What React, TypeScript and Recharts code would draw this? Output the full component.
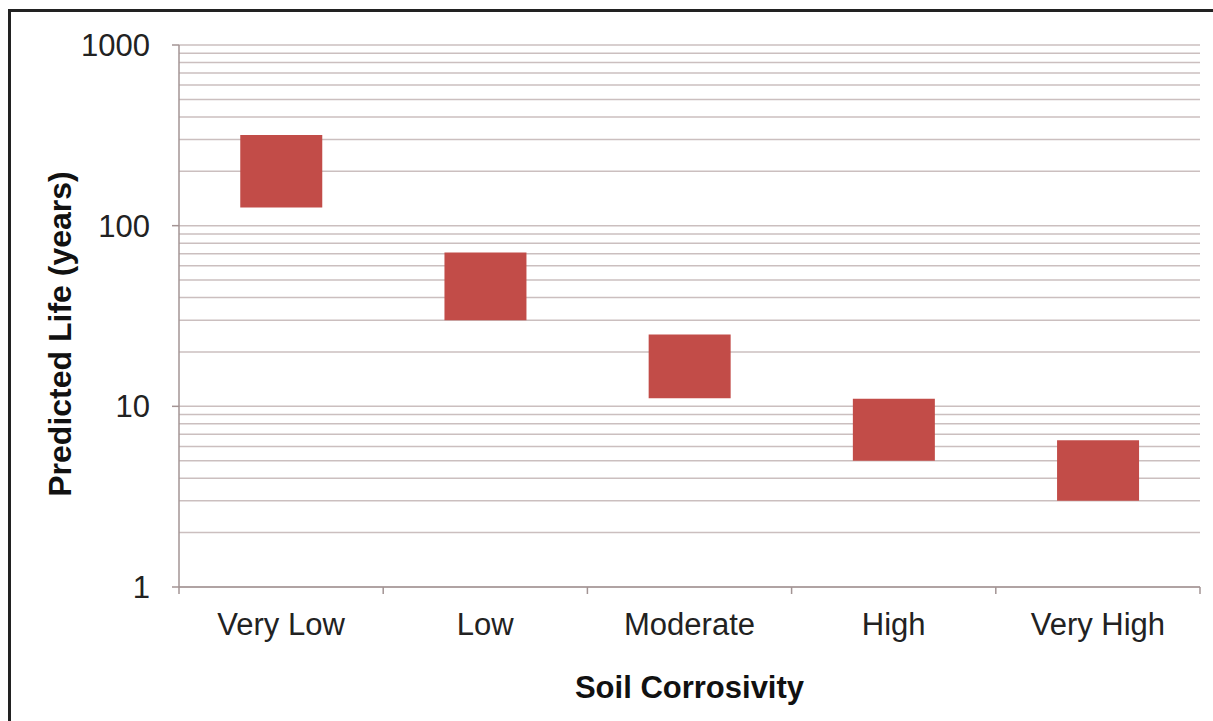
import { BarChart, Bar, XAxis, YAxis, CartesianGrid, Label } from 'recharts';

const categories = ['Very Low', 'Low', 'Moderate', 'High', 'Very High'];
const lifeMin = [126, 30, 11.1, 5, 3];
const lifeMax = [318, 71, 25, 11, 6.5];
const yTicks = [1, 10, 100, 1000];
const gridValues = [
  1, 2, 3, 4, 5, 6, 7, 8, 9,
  10, 20, 30, 40, 50, 60, 70, 80, 90,
  100, 200, 300, 400, 500, 600, 700, 800, 900,
  1000,
];

const data = categories.map((c, i) => ({ name: c, range: [lifeMin[i], lifeMax[i]] }));

const W = 1213;
const H = 721;
const LEFT = 179;
const RIGHT_MARGIN = 13;
const TOP = 45;
const X_AXIS_H = 134;
const BAND = (W - LEFT - RIGHT_MARGIN) / categories.length;
const FONT = '"Liberation Sans", Arial, sans-serif';
const AXIS_COLOR = '#a39494';
const GRID_COLOR = '#cbbfbf';
const LOG_MIN = Math.log10(yTicks[0]);
const LOG_MAX = Math.log10(yTicks[yTicks.length - 1]);

// gridline positions on the same log domain as the y axis
const gridCoords = ({ offset }: any) =>
  gridValues.map(
    (v) => offset.top + offset.height * (1 - (Math.log10(v) - LOG_MIN) / (LOG_MAX - LOG_MIN))
  );

const CategoryTick = ({ x, y, payload, index }: any) => {
  const axisY = y - 26;
  const half = BAND / 2;
  return (
    <g>
      <line x1={x - half} x2={x - half} y1={axisY} y2={axisY + 7} stroke={AXIS_COLOR} strokeWidth={1.5} />
      {index === categories.length - 1 && (
        <line x1={x + half} x2={x + half} y1={axisY} y2={axisY + 7} stroke={AXIS_COLOR} strokeWidth={1.5} />
      )}
      <text x={x} y={y} dy="0.71em" textAnchor="middle" fill="#222" fontSize={31} fontFamily={FONT}>
        {payload.value}
      </text>
    </g>
  );
};

export default function App() {
  return (
    <div style={{ position: 'absolute', left: 0, top: 0, width: W, height: H, background: '#fff' }}>
      <div
        style={{
          position: 'absolute',
          left: 8,
          top: 9,
          right: 0,
          bottom: 0,
          borderLeft: '3px solid #222',
          borderTop: '3px solid #222',
        }}
      />
      <div style={{ position: 'absolute', left: 0, top: 0 }}>
        <BarChart
          width={W}
          height={H}
          data={data}
          margin={{ top: TOP, right: RIGHT_MARGIN, bottom: 0, left: 0 }}
          barCategoryGap="30%"
        >
          <CartesianGrid
            vertical={false}
            stroke={GRID_COLOR}
            strokeWidth={1.5}
            horizontalCoordinatesGenerator={gridCoords}
          />
          <XAxis
            dataKey="name"
            height={X_AXIS_H}
            stroke={AXIS_COLOR}
            strokeWidth={1.5}
            tickLine={false}
            tickSize={0}
            tickMargin={26}
            tick={<CategoryTick />}
            interval={0}
          >
            <Label
              value="Soil Corrosivity"
              position="insideBottom"
              offset={23}
              style={{ fontSize: 31, fontWeight: 'bold', fontFamily: FONT, fill: '#111' }}
            />
          </XAxis>
          <YAxis
            scale="log"
            domain={[1, 1000]}
            ticks={yTicks}
            allowDataOverflow
            width={LEFT}
            stroke={AXIS_COLOR}
            strokeWidth={1.5}
            tickSize={7}
            tickMargin={22}
            tick={{ fill: '#222', fontSize: 31, fontFamily: FONT }}
          >
            <Label
              value="Predicted Life (years)"
              angle={-90}
              position="center"
              dx={-30}
              dy={18}
              style={{ fontSize: 32, fontWeight: 'bold', fontFamily: FONT, fill: '#111', textAnchor: 'middle' }}
            />
          </YAxis>
          <Bar dataKey="range" fill="#c24c48" isAnimationActive={false} />
        </BarChart>
      </div>
    </div>
  );
}
